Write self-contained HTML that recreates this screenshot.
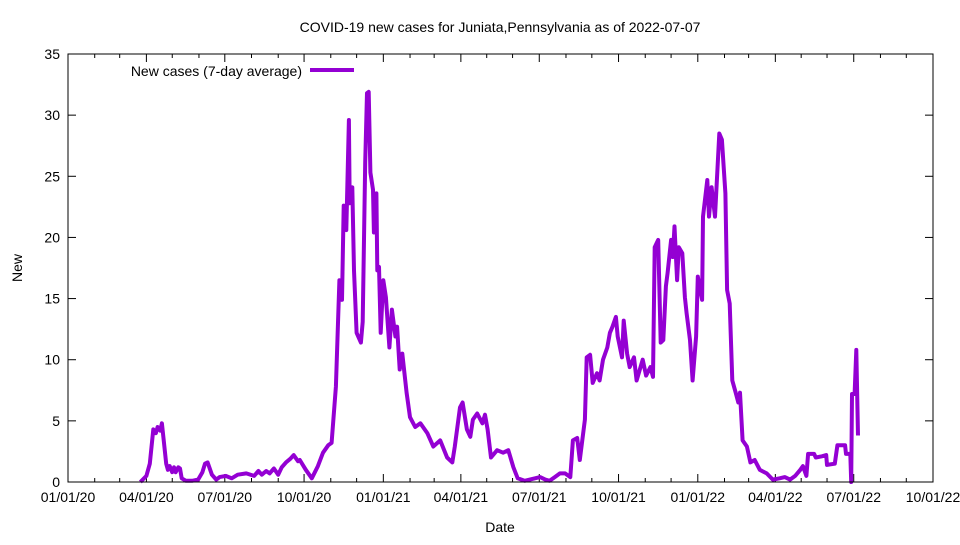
<!DOCTYPE html>
<html><head><meta charset="utf-8"><style>
body{margin:0;background:#fff}
svg text{font-family:"Liberation Sans",sans-serif;font-size:14px;fill:#000}
</style></head><body>
<svg id="chart" width="960" height="540" xmlns="http://www.w3.org/2000/svg">
<rect x="0" y="0" width="960" height="540" fill="#fff"/>
<text x="500" y="32" text-anchor="middle">COVID-19 new cases for Juniata,Pennsylvania as of 2022-07-07</text>
<text x="500" y="532" text-anchor="middle">Date</text>
<text x="22" y="268" text-anchor="middle" transform="rotate(-90 22 268)">New</text>
<g id="axes"></g>
<g id="series"></g>
<rect x="68" y="54" width="865" height="428" fill="none" stroke="#000" stroke-width="1"/>
<text x="302" y="76" text-anchor="end">New cases (7-day average)</text>
<line x1="310" y1="70" x2="354" y2="70" stroke="#9400d3" stroke-width="4"/>
</svg>
<script>
const days = [84,91,95,99,102,104,107,109,111,114,116,118,121,123,125,128,130,132,137,144,151,156,159,162,167,172,176,183,190,197,207,216,221,225,230,234,239,244,248,253,258,262,267,269,276,283,290,296,302,306,311,315,318,320,323,326,327,330,332,335,340,342,345,347,349,351,354,355,358,359,361,363,366,369,373,376,380,382,385,388,393,397,403,409,417,424,432,440,446,449,455,458,463,467,470,475,481,484,487,491,498,505,511,517,522,530,542,548,554,559,565,571,577,583,586,591,594,600,602,606,609,614,617,621,626,629,632,636,638,643,645,649,652,657,660,667,671,676,679,681,685,688,691,694,696,700,702,704,707,709,713,716,718,722,725,729,731,736,737,742,744,747,751,756,759,763,765,768,771,775,778,780,783,788,792,797,803,811,818,826,832,838,844,850,853,857,859,866,868,875,880,881,890,893,902,903,908,909,910,913,915,917];
const values = [0,0.5,1.5,4.3,4.0,4.5,4.2,4.8,3.5,1.5,1.0,1.3,0.8,1.2,0.8,1.2,1.1,0.3,0.1,0.1,0.2,0.8,1.5,1.6,0.6,0.2,0.4,0.5,0.3,0.6,0.7,0.5,0.9,0.6,0.9,0.7,1.1,0.6,1.2,1.6,1.9,2.2,1.7,1.8,1.0,0.3,1.3,2.4,3.0,3.2,7.8,16.5,14.9,22.6,20.6,29.6,22.8,24.1,17.3,12.2,11.4,13.1,26.1,31.8,31.9,25.3,23.9,20.4,23.6,17.3,17.6,12.2,16.5,15.1,11.0,14.1,11.9,12.7,9.2,10.5,7.3,5.3,4.5,4.8,4.0,2.9,3.4,2.0,1.6,2.9,6.1,6.5,4.3,3.7,5.1,5.6,4.8,5.5,4.3,2.0,2.6,2.4,2.6,1.2,0.3,0.1,0.3,0.4,0.2,0.1,0.4,0.7,0.7,0.4,3.4,3.6,1.8,5.1,10.2,10.4,8.1,8.9,8.3,10.0,11.0,12.2,12.7,13.5,11.9,10.2,13.2,10.5,9.4,10.2,8.3,10.0,8.7,9.4,8.6,19.2,19.8,11.4,11.6,16.0,17.1,19.8,18.4,20.9,16.5,19.2,18.7,15.1,13.8,11.6,8.3,11.9,16.8,14.9,21.7,24.7,21.7,24.1,21.7,28.5,28.0,23.6,15.7,14.6,8.3,7.3,6.5,7.3,3.4,2.9,1.6,1.8,1.0,0.7,0.2,0.3,0.4,0.2,0.5,1.0,1.3,0.5,2.3,2.3,2.0,2.1,2.2,1.4,1.5,3.0,3.0,2.3,2.3,0,7.2,7.2,10.8,3.8];
const yTicks = [0,5,10,15,20,25,30,35];
const xTickDays = [0,91,182,274,366,456,547,639,731,821,912,1004];
const xTickLabels = ["01/01/20","04/01/20","07/01/20","10/01/20","01/01/21","04/01/21","07/01/21","10/01/21","01/01/22","04/01/22","07/01/22","10/01/22"];
const minorDays = [31,60,121,152,213,244,305,335,397,425,486,516,578,608,670,700,762,790,851,881,943,973];

const X0=68,X1=933,Y0=482,Y1=54,DMAX=1004,VMAX=35;
const xs=d=>X0+(X1-X0)*d/DMAX;
const ys=v=>Y0-(Y0-Y1)*v/VMAX;
const NS="http://www.w3.org/2000/svg";
const axes=document.getElementById('axes');
function mk(tag,attrs,parent){const e=document.createElementNS(NS,tag);for(const k in attrs)e.setAttribute(k,attrs[k]);parent.appendChild(e);return e;}
yTicks.forEach(v=>{
  const y=ys(v);
  const t=mk('line',{x1:X0,x2:X0+8,y1:y,y2:y,stroke:'#000'},axes);
  
  
  const t2=mk('line',{x1:X1-8,x2:X1,y1:y,y2:y,stroke:'#000'},axes);
  
  
  const l=mk('text',{x:X0-8,y:y+5,'text-anchor':'end'},axes);
  l.textContent=v;
  
  
});
xTickDays.forEach((d,i)=>{
  const x=xs(d);
  const t=mk('line',{x1:x,x2:x,y1:Y0,y2:Y0-8,stroke:'#000'},axes);
  
  
  const t2=mk('line',{x1:x,x2:x,y1:Y1,y2:Y1+8,stroke:'#000'},axes);
  
  
  const l=mk('text',{x:x,y:Y0+20,'text-anchor':'middle'},axes);
  l.textContent=xTickLabels[i];
  
  
});
minorDays.forEach(d=>{
  const x=xs(d);
  const t=mk('line',{x1:x,x2:x,y1:Y0,y2:Y0-4,stroke:'#000'},axes);
  
  
  const t2=mk('line',{x1:x,x2:x,y1:Y1,y2:Y1+4,stroke:'#000'},axes);
  
  
});
const pts=days.map((d,i)=>xs(d).toFixed(1)+','+ys(values[i]).toFixed(1)).join(' ');
const line=mk('polyline',{points:pts,fill:'none',stroke:'#9400d3','stroke-width':4,'stroke-linejoin':'round'},document.getElementById('series'));


</script>
</body></html>
